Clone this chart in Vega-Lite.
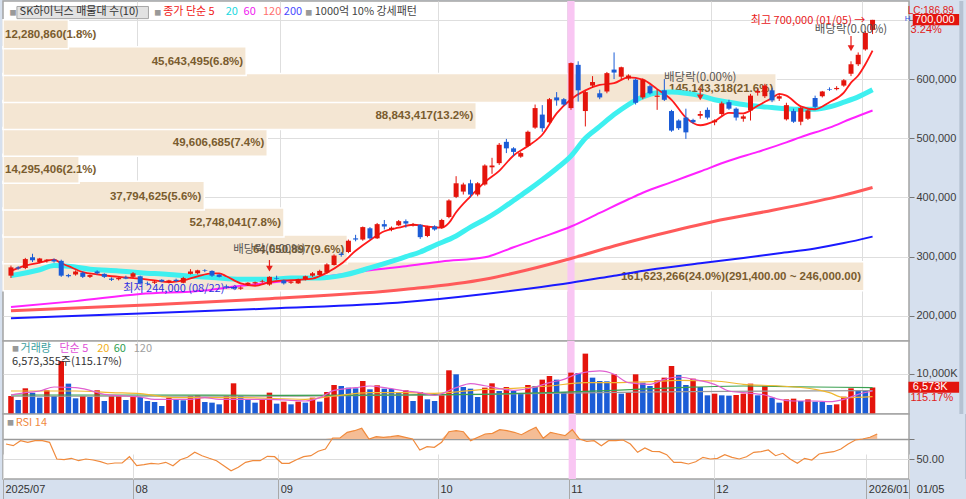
{
  "$schema": "https://vega.github.io/schema/vega-lite/v6.json",
  "description": "SK하이닉스 일봉: 매물대, 이동평균, 거래량, RSI",
  "background": "#d6e0ee",
  "padding": 0,
  "spacing": 0,
  "bounds": "flush",
  "config": {
    "view": {"stroke": "#a4a4a4", "strokeWidth": 1.5, "fill": "white"},
    "axis": {"labelFont": "Liberation Sans", "labelFontSize": 11, "labelColor": "#3c3c3c", "gridColor": "#dedede", "tickColor": "#777777", "domain": false},
    "text": {"font": "Noto Sans CJK KR", "fontSize": 11, "baseline": "middle"}
  },
  "datasets": {
    "day": [
      {"i":0,"o":268,"h":285,"l":264,"c":282,"v":4466,"r":65},
      {"i":1,"o":282,"h":284,"l":278,"c":280,"v":3473,"r":63.3},
      {"i":2,"o":281,"h":298,"l":279,"c":296,"v":6368,"r":68.3},
      {"i":3,"o":299,"h":305,"l":291,"c":294,"v":5293,"r":66.7},
      {"i":4,"o":291,"h":298,"l":289,"c":297,"v":4052,"r":68.3},
      {"i":5,"o":293,"h":296,"l":290,"c":295,"v":5872,"r":68.3},
      {"i":6,"o":295,"h":297,"l":290,"c":292,"v":4466,"r":66.7},
      {"i":7,"o":293,"h":295,"l":266,"c":268,"v":13149,"r":50},
      {"i":8,"o":269,"h":271,"l":265,"c":267,"v":7526,"r":49.3},
      {"i":9,"o":270,"h":277,"l":268,"c":275,"v":3887,"r":50.7},
      {"i":10,"o":273,"h":275,"l":264,"c":266,"v":4466,"r":48.3},
      {"i":11,"o":266,"h":270,"l":264,"c":269,"v":4218,"r":50},
      {"i":12,"o":275,"h":277,"l":270,"c":272,"v":5872,"r":49},
      {"i":13,"o":271,"h":272,"l":264,"c":266,"v":3225,"r":47.3},
      {"i":14,"o":263,"h":265,"l":259,"c":261,"v":4466,"r":45},
      {"i":15,"o":262,"h":265,"l":260,"c":264,"v":4631,"r":46},
      {"i":16,"o":265,"h":268,"l":262,"c":263,"v":3473,"r":46},
      {"i":17,"o":266,"h":274,"l":264,"c":272,"v":4466,"r":52.3},
      {"i":18,"o":267,"h":268,"l":253,"c":255,"v":4218,"r":43.3},
      {"i":19,"o":255,"h":258,"l":252,"c":254,"v":3225,"r":44.3},
      {"i":20,"o":256,"h":260,"l":254,"c":258,"v":2977,"r":45.7},
      {"i":21,"o":261,"h":262,"l":257,"c":258,"v":1985,"r":45},
      {"i":22,"o":257,"h":261,"l":255,"c":260,"v":4052,"r":46.7},
      {"i":23,"o":261,"h":263,"l":257,"c":259,"v":3639,"r":43.3},
      {"i":24,"o":256,"h":266,"l":255,"c":264,"v":3391,"r":49.3},
      {"i":25,"o":271,"h":279,"l":270,"c":275,"v":4466,"r":51.7},
      {"i":26,"o":272,"h":278,"l":270,"c":277,"v":4631,"r":56.7},
      {"i":27,"o":277,"h":279,"l":274,"c":276,"v":2977,"r":53.3},
      {"i":28,"o":276,"h":277,"l":266,"c":268,"v":2812,"r":50.7},
      {"i":29,"o":270,"h":271,"l":265,"c":266,"v":2398,"r":48.3},
      {"i":30,"o":250,"h":253,"l":246,"c":248,"v":4466,"r":43.3},
      {"i":31,"o":249,"h":250,"l":245,"c":246,"v":7608,"r":38.3},
      {"i":32,"o":246,"h":250,"l":244,"c":248,"v":4466,"r":41.7},
      {"i":33,"o":253,"h":257,"l":251,"c":256,"v":3639,"r":46.7},
      {"i":34,"o":255,"h":258,"l":253,"c":257,"v":2812,"r":48.3},
      {"i":35,"o":258,"h":261,"l":256,"c":259,"v":3473,"r":48.3},
      {"i":36,"o":253,"h":267,"l":251,"c":266,"v":5293,"r":52.7},
      {"i":37,"o":264,"h":268,"l":261,"c":263,"v":2564,"r":52.3},
      {"i":38,"o":260,"h":261,"l":253,"c":255,"v":3060,"r":45.7},
      {"i":39,"o":256,"h":259,"l":254,"c":258,"v":2398,"r":45.7},
      {"i":40,"o":255,"h":263,"l":254,"c":262,"v":3060,"r":49.3},
      {"i":41,"o":262,"h":268,"l":260,"c":267,"v":2812,"r":52.3},
      {"i":42,"o":268,"h":274,"l":266,"c":272,"v":4052,"r":53.3},
      {"i":43,"o":269,"h":278,"l":268,"c":276,"v":3060,"r":57.7},
      {"i":44,"o":273,"h":289,"l":271,"c":287,"v":5458,"r":60},
      {"i":45,"o":286,"h":304,"l":285,"c":302,"v":7195,"r":71},
      {"i":46,"o":305,"h":308,"l":300,"c":303,"v":6947,"r":71},
      {"i":47,"o":308,"h":329,"l":306,"c":327,"v":6533,"r":76.7},
      {"i":48,"o":331,"h":337,"l":326,"c":329,"v":6368,"r":78.3},
      {"i":49,"o":329,"h":351,"l":327,"c":350,"v":8187,"r":80.7},
      {"i":50,"o":348,"h":350,"l":329,"c":331,"v":6120,"r":70},
      {"i":51,"o":331,"h":357,"l":330,"c":355,"v":7112,"r":72.3},
      {"i":52,"o":355,"h":362,"l":346,"c":351,"v":6285,"r":71.7},
      {"i":53,"o":346,"h":351,"l":343,"c":349,"v":6203,"r":72.3},
      {"i":54,"o":353,"h":362,"l":352,"c":360,"v":5293,"r":73.3},
      {"i":55,"o":360,"h":363,"l":349,"c":356,"v":5872,"r":71.7},
      {"i":56,"o":353,"h":357,"l":351,"c":355,"v":3225,"r":70},
      {"i":57,"o":354,"h":355,"l":330,"c":333,"v":5458,"r":59},
      {"i":58,"o":335,"h":352,"l":333,"c":350,"v":3639,"r":62.3},
      {"i":59,"o":351,"h":353,"l":344,"c":346,"v":3225,"r":61.7},
      {"i":60,"o":349,"h":364,"l":347,"c":362,"v":4631,"r":66.7},
      {"i":61,"o":367,"h":397,"l":365,"c":395,"v":10834,"r":77.3},
      {"i":62,"o":401,"h":436,"l":399,"c":424,"v":9841,"r":78.3},
      {"i":63,"o":410,"h":425,"l":405,"c":422,"v":6699,"r":77.3},
      {"i":64,"o":424,"h":430,"l":400,"c":405,"v":6285,"r":68.3},
      {"i":65,"o":405,"h":426,"l":402,"c":424,"v":4218,"r":71.7},
      {"i":66,"o":422,"h":456,"l":420,"c":454,"v":6533,"r":75},
      {"i":67,"o":451,"h":467,"l":440,"c":454,"v":7608,"r":75.7},
      {"i":68,"o":458,"h":492,"l":455,"c":489,"v":5706,"r":79.3},
      {"i":69,"o":494,"h":499,"l":475,"c":483,"v":6699,"r":78.3},
      {"i":70,"o":483,"h":485,"l":470,"c":477,"v":5706,"r":76.7},
      {"i":71,"o":469,"h":477,"l":467,"c":475,"v":5127,"r":74.3},
      {"i":72,"o":487,"h":513,"l":485,"c":511,"v":7195,"r":78.3},
      {"i":73,"o":518,"h":557,"l":516,"c":551,"v":6947,"r":81.7},
      {"i":74,"o":540,"h":556,"l":511,"c":517,"v":8518,"r":70.7},
      {"i":75,"o":527,"h":568,"l":525,"c":566,"v":9428,"r":76.7},
      {"i":76,"o":569,"h":578,"l":555,"c":564,"v":8518,"r":75},
      {"i":77,"o":566,"h":568,"l":555,"c":557,"v":5458,"r":73.3},
      {"i":78,"o":551,"h":628,"l":548,"c":627,"v":10255,"r":79.3},
      {"i":79,"o":624,"h":630,"l":562,"c":581,"v":10172,"r":70},
      {"i":80,"o":546,"h":580,"l":520,"c":578,"v":14969,"r":67.7},
      {"i":81,"o":589,"h":605,"l":585,"c":595,"v":9014,"r":68.3},
      {"i":82,"o":576,"h":582,"l":566,"c":569,"v":8187,"r":63.3},
      {"i":83,"o":579,"h":612,"l":576,"c":610,"v":8105,"r":68.3},
      {"i":84,"o":616,"h":645,"l":600,"c":611,"v":9841,"r":68.3},
      {"i":85,"o":604,"h":621,"l":600,"c":620,"v":5045,"r":69},
      {"i":86,"o":601,"h":608,"l":598,"c":606,"v":5293,"r":65},
      {"i":87,"o":599,"h":601,"l":557,"c":560,"v":9841,"r":56.7},
      {"i":88,"o":569,"h":601,"l":566,"c":599,"v":7774,"r":61},
      {"i":89,"o":588,"h":590,"l":574,"c":576,"v":6947,"r":57.7},
      {"i":90,"o":570,"h":583,"l":548,"c":572,"v":8353,"r":57.3},
      {"i":91,"o":581,"h":600,"l":563,"c":565,"v":9014,"r":54.3},
      {"i":92,"o":546,"h":548,"l":511,"c":513,"v":11909,"r":46.7},
      {"i":93,"o":530,"h":532,"l":514,"c":517,"v":9676,"r":46.7},
      {"i":94,"o":535,"h":550,"l":499,"c":510,"v":7195,"r":45},
      {"i":95,"o":531,"h":533,"l":525,"c":527,"v":8766,"r":47.3},
      {"i":96,"o":538,"h":546,"l":533,"c":541,"v":6699,"r":51.7},
      {"i":97,"o":548,"h":552,"l":532,"c":535,"v":4631,"r":50},
      {"i":98,"o":527,"h":532,"l":522,"c":530,"v":5045,"r":50.7},
      {"i":99,"o":541,"h":562,"l":538,"c":559,"v":4631,"r":54.3},
      {"i":100,"o":561,"h":565,"l":548,"c":550,"v":4549,"r":51.7},
      {"i":101,"o":550,"h":552,"l":530,"c":535,"v":4714,"r":50},
      {"i":102,"o":533,"h":540,"l":528,"c":537,"v":5045,"r":52.3},
      {"i":103,"o":547,"h":575,"l":530,"c":572,"v":7526,"r":56.7},
      {"i":104,"o":577,"h":583,"l":572,"c":580,"v":4631,"r":57.3},
      {"i":105,"o":571,"h":592,"l":568,"c":589,"v":6947,"r":59},
      {"i":106,"o":581,"h":585,"l":561,"c":564,"v":4052,"r":53.3},
      {"i":107,"o":567,"h":575,"l":563,"c":571,"v":2812,"r":55.7},
      {"i":108,"o":532,"h":560,"l":530,"c":556,"v":3639,"r":50},
      {"i":109,"o":546,"h":550,"l":526,"c":528,"v":3804,"r":45.7},
      {"i":110,"o":528,"h":553,"l":522,"c":551,"v":3225,"r":50.7},
      {"i":111,"o":533,"h":549,"l":531,"c":547,"v":3639,"r":49},
      {"i":112,"o":568,"h":572,"l":550,"c":553,"v":3060,"r":55},
      {"i":113,"o":571,"h":580,"l":569,"c":579,"v":2977,"r":56.3},
      {"i":114,"o":583,"h":586,"l":580,"c":582,"v":2233,"r":57.3},
      {"i":115,"o":583,"h":588,"l":581,"c":585,"v":2398,"r":60},
      {"i":116,"o":589,"h":600,"l":587,"c":598,"v":4300,"r":65},
      {"i":117,"o":609,"h":630,"l":605,"c":625,"v":6368,"r":69},
      {"i":118,"o":625,"h":645,"l":622,"c":641,"v":5872,"r":70},
      {"i":119,"o":650,"h":681,"l":648,"c":678,"v":5706,"r":71.7},
      {"i":120,"o":683,"h":700,"l":676,"c":700,"v":6573,"r":75}
    ],
    "ma": [
      {"m":"200","i":0,"p":196},{"m":"200","i":18,"p":204},{"m":"200","i":36,"p":212.5},{"m":"200","i":55,"p":223.4},{"m":"200","i":66,"p":237},{"m":"200","i":72,"p":246},{"m":"200","i":78,"p":256},{"m":"200","i":84,"p":268},{"m":"200","i":89,"p":278},{"m":"200","i":96,"p":289},{"m":"200","i":102,"p":298},{"m":"200","i":107,"p":306},{"m":"200","i":112,"p":314},{"m":"200","i":116,"p":323},{"m":"200","i":120,"p":334},
      {"m":"120","i":0,"p":208.7},{"m":"120","i":18,"p":218},{"m":"120","i":36,"p":229},{"m":"120","i":55,"p":245},{"m":"120","i":66,"p":262},{"m":"120","i":72,"p":278},{"m":"120","i":78,"p":297},{"m":"120","i":84,"p":318},{"m":"120","i":90,"p":337},{"m":"120","i":98,"p":360},{"m":"120","i":105,"p":376},{"m":"120","i":112,"p":393},{"m":"120","i":116,"p":404},{"m":"120","i":120,"p":417},
      {"m":"60","i":0,"p":215},{"m":"60","i":9,"p":225},{"m":"60","i":18,"p":237},{"m":"60","i":27,"p":243},{"m":"60","i":32,"p":251},{"m":"60","i":36,"p":256},{"m":"60","i":41,"p":263},{"m":"60","i":46,"p":270},{"m":"60","i":50,"p":277},{"m":"60","i":55,"p":284},{"m":"60","i":60,"p":292},{"m":"60","i":66,"p":299},{"m":"60","i":70,"p":316},{"m":"60","i":74,"p":333},{"m":"60","i":78,"p":351},{"m":"60","i":82,"p":374},{"m":"60","i":86,"p":397},{"m":"60","i":88,"p":408},{"m":"60","i":92,"p":426},{"m":"60","i":96,"p":444},{"m":"60","i":100,"p":462},{"m":"60","i":104,"p":477},{"m":"60","i":108,"p":493},{"m":"60","i":110,"p":502},{"m":"60","i":114,"p":518},{"m":"60","i":117,"p":533},{"m":"60","i":120,"p":547},
      {"m":"20","i":0,"p":268},{"m":"20","i":4,"p":278},{"m":"20","i":6,"p":285},{"m":"20","i":8,"p":284},{"m":"20","i":11,"p":279},{"m":"20","i":15,"p":276},{"m":"20","i":18,"p":273},{"m":"20","i":22,"p":270},{"m":"20","i":25,"p":267},{"m":"20","i":28,"p":265},{"m":"20","i":32,"p":262},{"m":"20","i":36,"p":262},{"m":"20","i":39,"p":264},{"m":"20","i":43,"p":264},{"m":"20","i":46,"p":268},{"m":"20","i":50,"p":281},{"m":"20","i":53,"p":292},{"m":"20","i":55,"p":300},{"m":"20","i":57,"p":308},{"m":"20","i":59,"p":319},{"m":"20","i":62,"p":335},{"m":"20","i":64,"p":350},{"m":"20","i":66,"p":363},{"m":"20","i":68,"p":378},{"m":"20","i":70,"p":395},{"m":"20","i":72,"p":412},{"m":"20","i":74,"p":430},{"m":"20","i":76,"p":449},{"m":"20","i":78,"p":470},{"m":"20","i":80,"p":500},{"m":"20","i":82,"p":520},{"m":"20","i":84,"p":540},{"m":"20","i":86,"p":557},{"m":"20","i":88,"p":570},{"m":"20","i":90,"p":577},{"m":"20","i":92,"p":578},{"m":"20","i":94,"p":576},{"m":"20","i":96,"p":572},{"m":"20","i":98,"p":565},{"m":"20","i":100,"p":561},{"m":"20","i":102,"p":557},{"m":"20","i":104,"p":554},{"m":"20","i":106,"p":552},{"m":"20","i":108,"p":550},{"m":"20","i":110,"p":549},{"m":"20","i":112,"p":549},{"m":"20","i":114,"p":553},{"m":"20","i":116,"p":561},{"m":"20","i":118,"p":570},{"m":"20","i":120,"p":582},
      {"m":"5","i":0,"p":276},{"m":"5","i":2,"p":285},{"m":"5","i":4,"p":290},{"m":"5","i":6,"p":295},{"m":"5","i":7,"p":289},{"m":"5","i":8,"p":284},{"m":"5","i":10,"p":274},{"m":"5","i":12,"p":270},{"m":"5","i":14,"p":267},{"m":"5","i":16,"p":265},{"m":"5","i":18,"p":263},{"m":"5","i":20,"p":260},{"m":"5","i":22,"p":257},{"m":"5","i":24,"p":260},{"m":"5","i":26,"p":267},{"m":"5","i":28,"p":272},{"m":"5","i":29,"p":272},{"m":"5","i":30,"p":267},{"m":"5","i":32,"p":255},{"m":"5","i":34,"p":251},{"m":"5","i":36,"p":257},{"m":"5","i":38,"p":260},{"m":"5","i":40,"p":261},{"m":"5","i":42,"p":263},{"m":"5","i":44,"p":273},{"m":"5","i":46,"p":288},{"m":"5","i":48,"p":310},{"m":"5","i":50,"p":328},{"m":"5","i":52,"p":343},{"m":"5","i":54,"p":349},{"m":"5","i":56,"p":354},{"m":"5","i":58,"p":351},{"m":"5","i":60,"p":349},{"m":"5","i":61,"p":357},{"m":"5","i":62,"p":375},{"m":"5","i":64,"p":402},{"m":"5","i":66,"p":426},{"m":"5","i":68,"p":445},{"m":"5","i":70,"p":471},{"m":"5","i":72,"p":487},{"m":"5","i":74,"p":506},{"m":"5","i":76,"p":542},{"m":"5","i":78,"p":566},{"m":"5","i":80,"p":581},{"m":"5","i":82,"p":590},{"m":"5","i":84,"p":593},{"m":"5","i":86,"p":603},{"m":"5","i":88,"p":599},{"m":"5","i":90,"p":583},{"m":"5","i":92,"p":565},{"m":"5","i":94,"p":535},{"m":"5","i":96,"p":522},{"m":"5","i":98,"p":529},{"m":"5","i":100,"p":543},{"m":"5","i":102,"p":542},{"m":"5","i":104,"p":555},{"m":"5","i":106,"p":568},{"m":"5","i":107,"p":575},{"m":"5","i":108,"p":572},{"m":"5","i":110,"p":554},{"m":"5","i":112,"p":549},{"m":"5","i":114,"p":561},{"m":"5","i":116,"p":577},{"m":"5","i":117,"p":594},{"m":"5","i":118,"p":606},{"m":"5","i":119,"p":625},{"m":"5","i":120,"p":648}
    ],
    "vma": [
      {"m":"120","i":0,"v":4400},{"m":"120","i":40,"v":4450},{"m":"120","i":66,"v":4900},{"m":"120","i":90,"v":5500},{"m":"120","i":120,"v":5800},
      {"m":"60","i":0,"v":4714},{"m":"60","i":18,"v":4714},{"m":"60","i":37,"v":4631},{"m":"60","i":55,"v":4714},{"m":"60","i":66,"v":4879},{"m":"60","i":75,"v":5293},{"m":"60","i":84,"v":5872},{"m":"60","i":93,"v":6533},{"m":"60","i":102,"v":6947},{"m":"60","i":112,"v":6699},{"m":"60","i":120,"v":6533},
      {"m":"20","i":0,"v":5706},{"m":"20","i":9,"v":5706},{"m":"20","i":14,"v":5293},{"m":"20","i":18,"v":5045},{"m":"20","i":23,"v":4052},{"m":"20","i":32,"v":4052},{"m":"20","i":41,"v":3639},{"m":"20","i":45,"v":4466},{"m":"20","i":50,"v":5293},{"m":"20","i":55,"v":5293},{"m":"20","i":59,"v":5127},{"m":"20","i":66,"v":6120},{"m":"20","i":70,"v":6368},{"m":"20","i":75,"v":6947},{"m":"20","i":80,"v":7774},{"m":"20","i":84,"v":7774},{"m":"20","i":89,"v":8022},{"m":"20","i":93,"v":8353},{"m":"20","i":98,"v":8187},{"m":"20","i":102,"v":7360},{"m":"20","i":107,"v":6947},{"m":"20","i":112,"v":6120},{"m":"20","i":114,"v":5293},{"m":"20","i":116,"v":4052},{"m":"20","i":120,"v":4300},
      {"m":"5","i":0,"v":4714},{"m":"5","i":2,"v":5293},{"m":"5","i":4,"v":5706},{"m":"5","i":6,"v":6699},{"m":"5","i":9,"v":6533},{"m":"5","i":11,"v":5872},{"m":"5","i":13,"v":4879},{"m":"5","i":16,"v":4466},{"m":"5","i":18,"v":4218},{"m":"5","i":20,"v":3639},{"m":"5","i":25,"v":3639},{"m":"5","i":27,"v":4052},{"m":"5","i":29,"v":3639},{"m":"5","i":36,"v":3639},{"m":"5","i":39,"v":3391},{"m":"5","i":41,"v":3225},{"m":"5","i":43,"v":4052},{"m":"5","i":45,"v":5872},{"m":"5","i":48,"v":6533},{"m":"5","i":50,"v":6947},{"m":"5","i":52,"v":6533},{"m":"5","i":55,"v":5706},{"m":"5","i":57,"v":5293},{"m":"5","i":59,"v":4631},{"m":"5","i":62,"v":6533},{"m":"5","i":64,"v":7526},{"m":"5","i":66,"v":7000},{"m":"5","i":70,"v":5872},{"m":"5","i":73,"v":6699},{"m":"5","i":75,"v":7774},{"m":"5","i":77,"v":8601},{"m":"5","i":79,"v":10007},{"m":"5","i":82,"v":10668},{"m":"5","i":84,"v":9841},{"m":"5","i":86,"v":7774},{"m":"5","i":89,"v":7360},{"m":"5","i":91,"v":8601},{"m":"5","i":93,"v":9180},{"m":"5","i":95,"v":8601},{"m":"5","i":98,"v":7360},{"m":"5","i":100,"v":5706},{"m":"5","i":102,"v":5293},{"m":"5","i":105,"v":4714},{"m":"5","i":107,"v":3639},{"m":"5","i":109,"v":3225},{"m":"5","i":112,"v":3225},{"m":"5","i":114,"v":3060},{"m":"5","i":116,"v":3639},{"m":"5","i":118,"v":4879},{"m":"5","i":120,"v":5706}
    ],
    "prof": [
      {"lo":246,"hi":291.4,"mid":268.7,"v":161623266,"t":"161,623,266(24.0%)(291,400.00 ~ 246,000.00)"},
      {"lo":291.4,"hi":336.8,"mid":314.1,"v":64650897,"t":"64,650,897(9.6%)"},
      {"lo":336.8,"hi":382.2,"mid":359.5,"v":52748041,"t":"52,748,041(7.8%)"},
      {"lo":382.2,"hi":427.6,"mid":404.9,"v":37794625,"t":"37,794,625(5.6%)"},
      {"lo":427.6,"hi":473,"mid":450.3,"v":14295406,"t":"14,295,406(2.1%)"},
      {"lo":473,"hi":518.4,"mid":495.7,"v":49606685,"t":"49,606,685(7.4%)"},
      {"lo":518.4,"hi":563.8,"mid":541.1,"v":88843417,"t":"88,843,417(13.2%)"},
      {"lo":563.8,"hi":609.2,"mid":586.5,"v":145143318,"t":"145,143,318(21.6%)"},
      {"lo":609.2,"hi":654.6,"mid":631.9,"v":45643495,"t":"45,643,495(6.8%)"},
      {"lo":654.6,"hi":700,"mid":677.3,"v":12280860,"t":"12,280,860(1.8%)"}
    ]
  },
  "vconcat": [
    {
      "width": 906,
      "height": 340,
      "layer": [
        {
          "data": {"name": "prof"},
          "layer": [
            {
              "mark": {"type": "bar", "orient": "horizontal", "color": "#f4e6d3", "stroke": "white", "strokeWidth": 1.5, "yOffset": 2},
              "encoding": {
                "x": {"field": "v", "type": "quantitative", "scale": {"domain": [0, 170070000], "nice": false}, "axis": null},
                "x2": {"datum": 0},
                "y": {"field": "lo", "type": "quantitative", "title": null, "scale": {"domain": [166.1, 723.4], "nice": false, "zero": false}},
                "y2": {"field": "hi"}
              }
            },
            {
              "transform": [{"filter": "datum.v >= 20000000"}],
              "mark": {"type": "text", "align": "right", "dx": -3, "dy": 2, "font": "Liberation Sans", "fontSize": 11.5, "fontWeight": "bold", "color": "#7a5c2e"},
              "encoding": {
                "x": {"field": "v", "type": "quantitative"},
                "y": {"field": "mid", "type": "quantitative", "title": null},
                "text": {"field": "t"}
              }
            },
            {
              "transform": [{"filter": "datum.v < 20000000"}],
              "mark": {"type": "text", "align": "left", "dx": 2, "dy": 2, "font": "Liberation Sans", "fontSize": 11.5, "fontWeight": "bold", "color": "#7a5c2e"},
              "encoding": {
                "x": {"datum": 0},
                "y": {"field": "mid", "type": "quantitative", "title": null},
                "text": {"field": "t"}
              }
            }
          ]
        },
        {
          "layer": [
            {
              "data": {"values": [{}]},
              "mark": {"type": "rect", "color": "#f9c6f3"},
              "encoding": {
                "x": {"datum": 77.5, "type": "quantitative", "scale": {"domain": [-0.4132, 124.38], "nice": false, "zero": false},
                  "axis": {"orient": "bottom", "values": [17.5, 37.5, 59.5, 77.5, 97.5, 118.5], "grid": true, "labels": false, "ticks": false, "title": null, "minExtent": 0, "maxExtent": 0}},
                "x2": {"datum": 78.5}
              }
            },
            {
              "data": {"name": "ma"},
              "layer": [
                {
                  "transform": [{"filter": "datum.m == '200'"}],
                  "mark": {"type": "line", "interpolate": "monotone", "color": "#1a1aff", "strokeWidth": 2},
                  "encoding": {
                    "x": {"field": "i", "type": "quantitative"},
                    "y": {"field": "p", "type": "quantitative", "title": null,
                      "scale": {"domain": [166.1, 723.4], "nice": false, "zero": false},
                      "axis": {"orient": "right", "values": [200, 250, 300, 350, 400, 450, 500, 550, 600, 650, 700], "labelExpr": "datum.value >= 700 ? '' : format(datum.value * 1000, ',')", "grid": true, "tickSize": 5, "labelPadding": 2, "minExtent": 60, "maxExtent": 60, "title": null, "labelOverlap": false, "labelBound": false, "labelFlush": false}}
                  }
                },
                {
                  "transform": [{"filter": "datum.m == '120'"}],
                  "mark": {"type": "line", "interpolate": "monotone", "color": "#ff5a5a", "strokeWidth": 3},
                  "encoding": {"x": {"field": "i", "type": "quantitative"}, "y": {"field": "p", "type": "quantitative", "title": null}}
                },
                {
                  "transform": [{"filter": "datum.m == '60'"}],
                  "mark": {"type": "line", "interpolate": "monotone", "color": "#ff22ff", "strokeWidth": 2},
                  "encoding": {"x": {"field": "i", "type": "quantitative"}, "y": {"field": "p", "type": "quantitative", "title": null}}
                },
                {
                  "transform": [{"filter": "datum.m == '20'"}],
                  "mark": {"type": "line", "interpolate": "monotone", "color": "#3ef0f0", "strokeWidth": 5},
                  "encoding": {"x": {"field": "i", "type": "quantitative"}, "y": {"field": "p", "type": "quantitative", "title": null}}
                },
                {
                  "transform": [{"filter": "datum.m == '5'"}],
                  "mark": {"type": "line", "interpolate": "monotone", "color": "#ff1a1a", "strokeWidth": 1.8},
                  "encoding": {"x": {"field": "i", "type": "quantitative"}, "y": {"field": "p", "type": "quantitative", "title": null}}
                }
              ]
            },
            {
              "data": {"name": "day"},
              "mark": {"type": "rule", "strokeWidth": 1},
              "encoding": {
                "x": {"field": "i", "type": "quantitative"},
                "y": {"field": "l", "type": "quantitative", "title": null},
                "y2": {"field": "h"},
                "color": {"condition": {"test": "datum.c >= datum.o", "value": "#e4140c"}, "value": "#1b5cd6"}
              }
            },
            {
              "data": {"name": "day"},
              "mark": {"type": "bar", "orient": "vertical", "width": 5},
              "encoding": {
                "x": {"field": "i", "type": "quantitative"},
                "y": {"field": "o", "type": "quantitative", "title": null},
                "y2": {"field": "c"},
                "color": {"condition": {"test": "datum.c >= datum.o", "value": "#e4140c"}, "value": "#1b5cd6"}
              }
            },
            {
              "data": {"values": [{}]},
              "layer": [
                {"mark": {"type": "rect", "fill": "#e2e2e2", "stroke": "#a6a6a6", "strokeWidth": 1},
                 "encoding": {"x": {"datum": 0.83}, "x2": {"datum": 19.15}, "y": {"datum": 722.6}, "y2": {"datum": 702.1}}},
                {"mark": {"type": "text", "text": "■", "align": "left", "fontSize": 7, "color": "#999999"},
                 "encoding": {"x": {"datum": -0.2}, "y": {"datum": 712}}},
                {"mark": {"type": "text", "text": "SK하이닉스 매물대 수(10)", "align": "left", "color": "#333333"},
                 "encoding": {"x": {"datum": 1.2}, "y": {"datum": 712.5}}},
                {"mark": {"type": "text", "text": "■", "align": "left", "fontSize": 7, "color": "#999999"},
                 "encoding": {"x": {"datum": 19.95}, "y": {"datum": 712}}},
                {"mark": {"type": "text", "text": "종가 단순 5", "align": "left", "color": "#f02020"},
                 "encoding": {"x": {"datum": 21.2}, "y": {"datum": 712.5}}},
                {"mark": {"type": "text", "text": "20", "align": "left", "color": "#20d8e0"},
                 "encoding": {"x": {"datum": 29.9}, "y": {"datum": 712.5}}},
                {"mark": {"type": "text", "text": "60", "align": "left", "color": "#f020f0"},
                 "encoding": {"x": {"datum": 32.4}, "y": {"datum": 712.5}}},
                {"mark": {"type": "text", "text": "120", "align": "left", "color": "#ff7070"},
                 "encoding": {"x": {"datum": 35.1}, "y": {"datum": 712.5}}},
                {"mark": {"type": "text", "text": "200", "align": "left", "color": "#4a4aff"},
                 "encoding": {"x": {"datum": 38.0}, "y": {"datum": 712.5}}},
                {"mark": {"type": "text", "text": "■", "align": "left", "fontSize": 7, "color": "#999999"},
                 "encoding": {"x": {"datum": 41.0}, "y": {"datum": 712}}},
                {"mark": {"type": "text", "text": "1000억 10% 강세패턴", "align": "left", "color": "#444444"},
                 "encoding": {"x": {"datum": 42.3}, "y": {"datum": 712.5}}},
                {"mark": {"type": "text", "text": "최고 700,000 (01/05) →", "align": "right", "color": "#e8201c"},
                 "encoding": {"x": {"datum": 119.0}, "y": {"datum": 698}}},
                {"mark": {"type": "text", "text": "최저 244,000 (08/22) →", "align": "right", "color": "#3030e0"},
                 "encoding": {"x": {"datum": 31.6}, "y": {"datum": 244.8}}},
                {"mark": {"type": "rule", "color": "#e8201c", "strokeWidth": 1.2},
                 "encoding": {"x": {"datum": 36}, "y": {"datum": 294.4}, "y2": {"datum": 279}}},
                {"mark": {"type": "point", "shape": "triangle-down", "filled": true, "size": 45, "color": "#e8201c", "opacity": 1},
                 "encoding": {"x": {"datum": 36}, "y": {"datum": 280}}},
                {"mark": {"type": "text", "text": "배당락(0.00%)", "align": "center", "color": "#555555", "fontSize": 11.5},
                 "encoding": {"x": {"datum": 36}, "y": {"datum": 311.9}}},
                {"mark": {"type": "rule", "color": "#e8201c", "strokeWidth": 1.2},
                 "encoding": {"x": {"datum": 96}, "y": {"datum": 585.7}, "y2": {"datum": 568}}},
                {"mark": {"type": "point", "shape": "triangle-down", "filled": true, "size": 45, "color": "#e8201c", "opacity": 1},
                 "encoding": {"x": {"datum": 96}, "y": {"datum": 569}}},
                {"mark": {"type": "text", "text": "배당락(0.00%)", "align": "center", "color": "#555555", "fontSize": 11.5},
                 "encoding": {"x": {"datum": 96}, "y": {"datum": 602.1}}},
                {"mark": {"type": "rule", "color": "#e8201c", "strokeWidth": 1.2},
                 "encoding": {"x": {"datum": 117}, "y": {"datum": 672.6}, "y2": {"datum": 651}}},
                {"mark": {"type": "point", "shape": "triangle-down", "filled": true, "size": 45, "color": "#e8201c", "opacity": 1},
                 "encoding": {"x": {"datum": 117}, "y": {"datum": 652}}},
                {"mark": {"type": "text", "text": "배당락(0.00%)", "align": "center", "color": "#555555", "fontSize": 11.5},
                 "encoding": {"x": {"datum": 117}, "y": {"datum": 682.4}}},
                {"mark": {"type": "text", "text": "LC:186.89", "align": "left", "baseline": "top", "font": "Liberation Sans", "fontSize": 10, "color": "#e02020"},
                 "encoding": {"x": {"datum": 124.9}, "y": {"datum": 723.4}}},
                {"mark": {"type": "text", "text": "H", "align": "left", "font": "Liberation Sans", "fontSize": 8, "color": "#3050e0"},
                 "encoding": {"x": {"datum": 124.5}, "y": {"datum": 701}}},
                {"mark": {"type": "rect", "color": "#e3140e"},
                 "encoding": {"x": {"datum": 125.6}, "x2": {"datum": 132.09}, "y": {"datum": 709.8}, "y2": {"datum": 690.7}}},
                {"mark": {"type": "text", "text": "700,000", "align": "left", "font": "Liberation Sans", "fontSize": 11, "color": "white"},
                 "encoding": {"x": {"datum": 125.9}, "y": {"datum": 700.2}}},
                {"mark": {"type": "text", "text": "3.24%", "align": "left", "font": "Liberation Sans", "fontSize": 11, "color": "#e02020"},
                 "encoding": {"x": {"datum": 125.3}, "y": {"datum": 682.4}}},
                {"mark": {"type": "rect", "color": "#b6c2d2"},
                 "encoding": {"x": {"datum": 132.09}, "x2": {"datum": 132.64}}}
              ]
            }
          ]
        }
      ],
      "resolve": {"scale": {"x": "independent"}}
    },
    {
      "width": 906,
      "height": 73,
      "layer": [
        {
          "data": {"values": [{}]},
          "mark": {"type": "rect", "color": "#f9c6f3"},
          "encoding": {
            "x": {"datum": 77.5, "type": "quantitative", "scale": {"domain": [-0.4132, 124.38], "nice": false, "zero": false},
              "axis": {"orient": "bottom", "values": [17.5, 37.5, 59.5, 77.5, 97.5, 118.5], "grid": true, "labels": false, "ticks": false, "title": null, "minExtent": 0, "maxExtent": 0}},
            "x2": {"datum": 78.5}
          }
        },
        {
          "data": {"name": "day"},
          "transform": [{"window": [{"op": "lag", "field": "v", "as": "pv"}], "sort": [{"field": "i"}]}],
          "mark": {"type": "bar", "orient": "vertical", "width": 5.5},
          "encoding": {
            "x": {"field": "i", "type": "quantitative"},
            "y": {"field": "v", "type": "quantitative", "title": null,
              "scale": {"domain": [0, 18100], "nice": false},
              "axis": {"orient": "right", "values": [10000], "labelExpr": "'10,000K'", "grid": true, "tickSize": 5, "labelPadding": 2, "minExtent": 60, "maxExtent": 60, "title": null, "labelBound": false, "labelFlush": false}},
            "color": {"condition": {"test": "datum.pv == null || datum.v >= datum.pv", "value": "#e4140c"}, "value": "#1b5cd6"}
          }
        },
        {
          "data": {"name": "vma"},
          "mark": {"type": "line", "interpolate": "monotone", "strokeWidth": 1.2},
          "encoding": {
            "x": {"field": "i", "type": "quantitative"},
            "y": {"field": "v", "type": "quantitative", "title": null},
            "color": {"field": "m", "type": "nominal", "legend": null,
              "scale": {"domain": ["120", "60", "20", "5"], "range": ["#9a9a9a", "#3aa050", "#f0b830", "#e060d0"]}}
          }
        },
        {
          "data": {"values": [{}]},
          "layer": [
            {"mark": {"type": "text", "text": "■", "align": "left", "fontSize": 7, "color": "#999999"},
             "encoding": {"x": {"datum": 0.14}, "y": {"datum": 16000}}},
            {"mark": {"type": "text", "text": "거래량", "align": "left", "color": "#3a9e9e"},
             "encoding": {"x": {"datum": 1.34}, "y": {"datum": 16000}}},
            {"mark": {"type": "text", "text": "단순 5", "align": "left", "color": "#e050d8"},
             "encoding": {"x": {"datum": 6.75}, "y": {"datum": 16000}}},
            {"mark": {"type": "text", "text": "20", "align": "left", "color": "#f0b020"},
             "encoding": {"x": {"datum": 12.0}, "y": {"datum": 16000}}},
            {"mark": {"type": "text", "text": "60", "align": "left", "color": "#30a050"},
             "encoding": {"x": {"datum": 14.3}, "y": {"datum": 16000}}},
            {"mark": {"type": "text", "text": "120", "align": "left", "color": "#a0a0a0"},
             "encoding": {"x": {"datum": 17.1}, "y": {"datum": 16000}}},
            {"mark": {"type": "text", "text": "6,573,355주(115.17%)", "align": "left", "color": "#333333"},
             "encoding": {"x": {"datum": 0.14}, "y": {"datum": 13000}}},
            {"mark": {"type": "rect", "color": "#e3140e"},
             "encoding": {"x": {"datum": 125.0}, "x2": {"datum": 132.09}, "y": {"datum": 8009}, "y2": {"datum": 5281}}},
            {"mark": {"type": "text", "text": "6,573K", "align": "left", "font": "Liberation Sans", "fontSize": 11, "color": "white"},
             "encoding": {"x": {"datum": 125.6}, "y": {"datum": 6695}}},
            {"mark": {"type": "text", "text": "115.17%", "align": "left", "font": "Liberation Sans", "fontSize": 11, "color": "#e02020"},
             "encoding": {"x": {"datum": 125.3}, "y": {"datum": 4042}}},
            {"mark": {"type": "rect", "color": "#b6c2d2"},
             "encoding": {"x": {"datum": 132.09}, "x2": {"datum": 132.64}}}
          ]
        }
      ]
    },
    {
      "width": 906,
      "height": 65,
      "layer": [
        {
          "data": {"values": [{}]},
          "mark": {"type": "rect", "color": "#f9c6f3"},
          "encoding": {
            "x": {"datum": 77.5, "type": "quantitative", "scale": {"domain": [-0.4132, 124.38], "nice": false, "zero": false},
              "axis": {"orient": "bottom", "values": [-0.4132, 17.5, 37.5, 59.5, 77.5, 97.5, 118.5, 124.38], "grid": true, "tickSize": 21, "tickColor": "#a8a8a8",
                "labelExpr": "datum.value < 0 ? '2025/07' : datum.value < 18 ? '08' : datum.value < 38 ? '09' : datum.value < 60 ? '10' : datum.value < 78 ? '11' : datum.value < 98 ? '12' : datum.value < 119 ? '2026/01' : ''",
                "labelAlign": "left", "labelBaseline": "middle", "labelPadding": -11, "labelOffset": 2, "labelColor": "#333333", "labelBound": false, "labelFlush": false, "labelOverlap": false,
                "title": "01/05", "titleX": 927, "titleY": 10, "titleAlign": "center", "titleBaseline": "middle", "titleFont": "Liberation Sans", "titleFontSize": 11, "titleFontWeight": "normal", "titleColor": "#333333",
                "minExtent": 21, "maxExtent": 21}},
            "x2": {"datum": 78.5}
          }
        },
        {
          "data": {"name": "day"},
          "mark": {"type": "area", "color": "#f5bd95", "opacity": 1},
          "encoding": {
            "x": {"field": "i", "type": "quantitative"},
            "y": {"field": "r", "type": "quantitative", "title": null, "scale": {"domain": [70, 95], "range": [25, 0], "clamp": true, "nice": false, "zero": false}, "axis": null},
            "y2": {"datum": 70}
          }
        },
        {
          "data": {"name": "day"},
          "mark": {"type": "line", "color": "#f08a3c", "strokeWidth": 1.2},
          "encoding": {
            "x": {"field": "i", "type": "quantitative"},
            "y": {"field": "r", "type": "quantitative", "title": null,
              "scale": {"domain": [30, 95], "nice": false, "zero": false},
              "axis": {"orient": "right", "values": [50, 70], "labelExpr": "datum.value == 50 ? '50.00' : ''", "grid": true,
                "gridColor": {"condition": {"test": "datum.value == 70", "value": "#9a9a9a"}, "value": "#dcdcdc"},
                "gridWidth": {"condition": {"test": "datum.value == 70", "value": 1.5}, "value": 1},
                "tickSize": 5, "labelPadding": 2, "minExtent": 60, "maxExtent": 60, "title": null, "labelBound": false, "labelFlush": false}}
          }
        },
        {
          "data": {"values": [{}]},
          "layer": [
            {"mark": {"type": "text", "text": "■", "align": "left", "fontSize": 7, "color": "#999999"},
             "encoding": {"x": {"datum": 0.14}, "y": {"datum": 86.3, "scale": {"domain": [30, 95]}, "axis": null}}},
            {"mark": {"type": "text", "text": "RSI 14", "align": "left", "color": "#f08a40"},
             "encoding": {"x": {"datum": 1.34}, "y": {"datum": 86.3, "scale": {"domain": [30, 95]}, "axis": null}}},
            {"mark": {"type": "rect", "color": "#b6c2d2"},
             "encoding": {"x": {"datum": 132.09}, "x2": {"datum": 132.64}}}
          ]
        }
      ],
      "resolve": {"scale": {"y": "independent"}}
    }
  ],
  "resolve": {"scale": {"color": "independent"}}
}
